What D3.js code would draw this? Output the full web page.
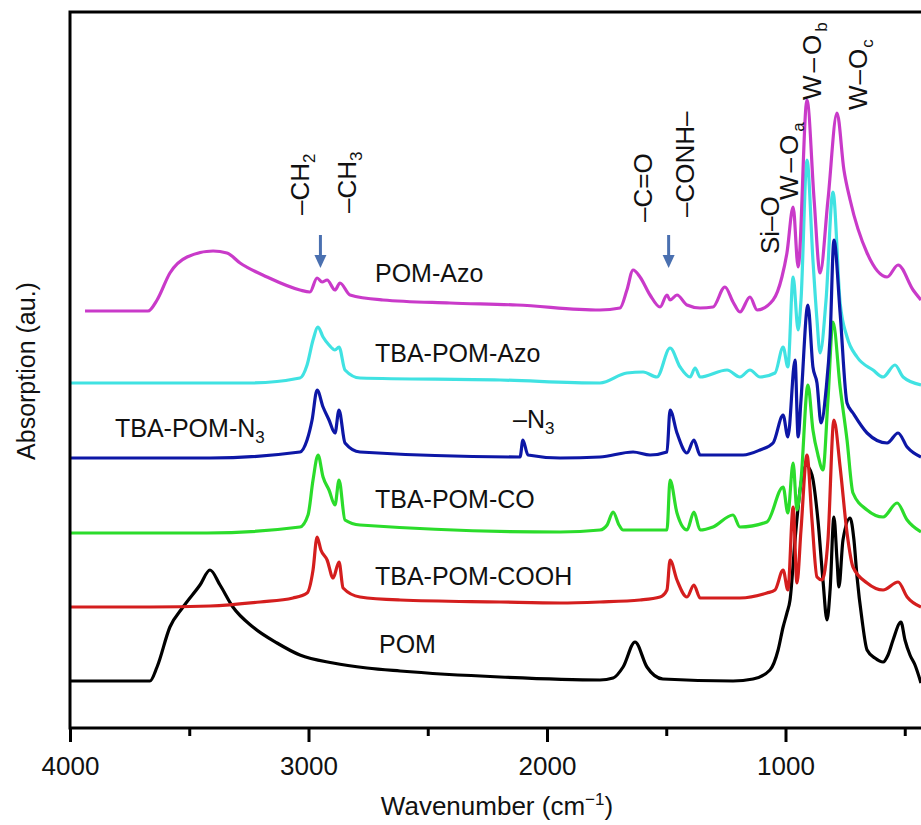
<!DOCTYPE html>
<html lang="en">
  <head>
    <meta charset="UTF-8" />
    <title>FTIR spectra</title>
    <style>
      body { margin: 0; background: #fff; }
      text { font-family: "Liberation Sans", Arial, sans-serif; fill: #111; }
    </style>
  </head>
  <body>
    <svg id="chart"></svg>
    <script src="https://cdnjs.cloudflare.com/ajax/libs/d3/7.4.4/d3.min.js"></script>
    <script>
      // spectra: [wavenumber cm-1, absorption au.]
      const pom = [[4000,0.47],[3665,0.47],[3635,0.61],[3581,1.01],[3526,1.21],[3455,1.43],[3413,1.58],[3371,1.43],[3317,1.21],[3233,1.01],[3132,0.85],[3036,0.73],[2897,0.65],[2755,0.60],[2616,0.57],[2197,0.51],[1778,0.48],[1723,0.50],[1681,0.61],[1631,0.86],[1581,0.61],[1514,0.49],[1220,0.47],[1136,0.49],[1065,0.58],[1031,0.78],[1010,1.01],[994,1.15],[981,1.28],[960,1.88],[939,2.38],[914,2.63],[889,2.53],[864,2.08],[843,1.48],[826,1.08],[813,1.38],[797,2.11],[784,1.68],[776,1.41],[759,1.88],[729,2.10],[713,1.88],[700,1.51],[679,1.08],[658,0.78],[625,0.70],[591,0.66],[570,0.73],[549,0.88],[516,1.06],[499,0.88],[478,0.73],[457,0.63],[432,0.45]];
      const cooh = [[4000,1.21],[3665,1.21],[3413,1.22],[3203,1.26],[3065,1.30],[3006,1.35],[2981,1.58],[2964,1.91],[2948,1.78],[2922,1.68],[2897,1.50],[2872,1.66],[2855,1.40],[2784,1.31],[2616,1.28],[2197,1.26],[1945,1.25],[1778,1.26],[1610,1.28],[1526,1.31],[1497,1.38],[1484,1.68],[1455,1.48],[1413,1.31],[1384,1.43],[1358,1.30],[1191,1.30],[1078,1.35],[1044,1.38],[1010,1.58],[990,1.38],[968,2.21],[952,1.45],[935,1.98],[910,2.73],[889,2.08],[868,1.51],[847,1.48],[822,1.88],[797,3.08],[771,2.61],[742,1.95],[717,1.61],[658,1.45],[591,1.38],[528,1.46],[490,1.31],[432,1.21]];
      const co = [[4000,1.95],[3426,1.95],[3036,2.01],[3002,2.13],[2981,2.48],[2960,2.73],[2939,2.51],[2914,2.38],[2889,2.23],[2872,2.48],[2847,2.08],[2784,2.03],[1945,1.96],[1778,1.98],[1748,2.03],[1723,2.16],[1698,2.03],[1681,1.98],[1497,1.98],[1484,2.48],[1455,2.15],[1413,1.98],[1384,2.16],[1358,1.98],[1304,2.01],[1220,2.13],[1191,2.01],[1078,2.06],[1010,2.41],[990,2.15],[968,2.65],[952,2.18],[935,2.48],[906,3.43],[885,2.98],[864,2.73],[843,2.58],[822,3.28],[801,4.06],[771,3.41],[742,2.88],[717,2.35],[658,2.18],[591,2.11],[532,2.25],[490,2.08],[432,1.96]];
      const n3 = [[4000,2.70],[3413,2.70],[3036,2.76],[3006,2.88],[2985,3.08],[2964,3.38],[2939,3.21],[2914,3.08],[2889,2.95],[2872,3.18],[2847,2.85],[2784,2.76],[2113,2.71],[2101,2.88],[2080,2.73],[1945,2.70],[1778,2.71],[1639,2.76],[1568,2.73],[1497,2.76],[1484,3.18],[1455,2.95],[1413,2.75],[1384,2.88],[1358,2.73],[1178,2.73],[1107,2.78],[1052,2.85],[1010,3.13],[990,2.91],[960,3.68],[947,2.91],[935,3.28],[906,4.23],[885,3.61],[868,3.45],[851,3.05],[830,3.38],[813,3.91],[797,4.88],[771,4.15],[742,3.25],[717,3.15],[658,2.95],[574,2.85],[528,2.95],[490,2.81],[432,2.71]];
      const tbaAzo = [[4000,3.45],[3245,3.45],[3036,3.50],[3006,3.63],[2981,3.88],[2960,4.01],[2939,3.91],[2914,3.83],[2889,3.78],[2872,3.81],[2847,3.58],[2784,3.50],[2197,3.48],[1778,3.45],[1665,3.55],[1597,3.56],[1539,3.51],[1484,3.80],[1442,3.61],[1400,3.51],[1379,3.60],[1358,3.51],[1245,3.58],[1191,3.51],[1149,3.58],[1107,3.51],[1044,3.55],[1010,3.81],[990,3.61],[968,4.51],[947,3.98],[935,4.28],[910,5.68],[885,4.68],[868,4.08],[855,3.75],[830,4.28],[801,5.36],[771,4.25],[742,3.91],[700,3.71],[633,3.58],[591,3.51],[541,3.63],[507,3.51],[432,3.43]];
      const pomAzo = [[3937,4.17],[3673,4.17],[3635,4.28],[3581,4.55],[3509,4.71],[3400,4.77],[3342,4.75],[3287,4.65],[3174,4.51],[3036,4.38],[2994,4.36],[2964,4.50],[2943,4.46],[2922,4.48],[2889,4.38],[2868,4.45],[2826,4.33],[2688,4.28],[2407,4.25],[2126,4.23],[1778,4.18],[1694,4.20],[1665,4.38],[1639,4.58],[1610,4.51],[1568,4.33],[1526,4.21],[1497,4.33],[1484,4.28],[1455,4.33],[1413,4.23],[1358,4.20],[1304,4.21],[1254,4.41],[1220,4.26],[1191,4.16],[1149,4.31],[1119,4.18],[1052,4.28],[1015,4.51],[994,4.75],[968,5.21],[947,4.61],[910,6.28],[880,5.28],[855,4.55],[822,5.28],[784,6.15],[755,5.58],[729,5.28],[658,4.75],[574,4.51],[528,4.63],[465,4.38],[432,4.28]];

      const majorTicks = [4000, 3000, 2000, 1000];
      const minorTicks = [3500, 2500, 1500, 500];

      const W = 921, H = 825;
      const mLeft = 70, mTop = 12, mBottom = 728;

      const svg = d3.select("#chart").attr("width", W).attr("height", H);

      const x = d3.scaleLinear().domain([4000, 400]).range([mLeft, 928.6]);
      const y = d3.scaleLinear().domain([0, 7.16]).range([mBottom, mTop]);

      svg.append("clipPath").attr("id", "plot")
        .append("rect").attr("x", mLeft).attr("y", mTop).attr("width", W - mLeft).attr("height", mBottom - mTop);

      const line = d3.line()
        .x((d) => x(d[0]))
        .y((d) => y(d[1]))
        .curve(d3.curveMonotoneX);

      const series = [
        { data: pom, color: "#000000" },
        { data: cooh, color: "#d41e1e" },
        { data: co, color: "#2bdc2b" },
        { data: tbaAzo, color: "#40e2e2" },
        { data: n3, color: "#0d17a6" },
        { data: pomAzo, color: "#c93ac9" },
      ];

      svg.append("g").attr("clip-path", "url(#plot)")
        .selectAll("path").data(series).enter().append("path")
        .attr("d", (s) => line(s.data))
        .attr("fill", "none")
        .attr("stroke", (s) => s.color)
        .attr("stroke-width", 3.2)
        .attr("stroke-linejoin", "round");

      // frame (right side is cropped in the figure)
      svg.append("path")
        .attr("d", `M${W + 5},${mTop}H${mLeft}V${mBottom}H${W + 5}`)
        .attr("fill", "none").attr("stroke", "#000").attr("stroke-width", 3);

      const axis = d3.axisBottom(x).tickValues(majorTicks).tickSize(14).tickPadding(15).tickFormat(d3.format("d"));
      const ax = svg.append("g").attr("transform", `translate(0,${mBottom})`).call(axis);
      ax.select(".domain").remove();
      ax.selectAll("line").attr("stroke", "#000").attr("stroke-width", 3);
      ax.selectAll("text").attr("font-size", 26).attr("fill", "#111").style("font-family", "Liberation Sans, Arial, sans-serif");

      const axMinor = d3.axisBottom(x).tickValues(minorTicks).tickSize(8).tickFormat("");
      const am = svg.append("g").attr("transform", `translate(0,${mBottom})`).call(axMinor);
      am.select(".domain").remove();
      am.selectAll("line").attr("stroke", "#000").attr("stroke-width", 3);

      // axis titles
      const xt = svg.append("text").attr("x", 497).attr("y", 815).attr("text-anchor", "middle").attr("font-size", 26);
      xt.append("tspan").text("Wavenumber (cm");
      xt.append("tspan").attr("font-size", 17).attr("dy", -10).text("−1");
      xt.append("tspan").attr("dy", 10).text(")");

      svg.append("text").attr("transform", "translate(35,371) rotate(-90)")
        .attr("text-anchor", "middle").attr("font-size", 25).text("Absorption (au.)");

      // series labels
      function label(px, py, main, sub) {
        const t = svg.append("text").attr("x", px).attr("y", py).attr("font-size", 25);
        t.append("tspan").text(main);
        if (sub) t.append("tspan").attr("font-size", 17).attr("dy", 6).text(sub);
      }
      label(375, 282, "POM-Azo");
      label(375, 362, "TBA-POM-Azo");
      label(115, 437, "TBA-POM-N", "3");
      label(513, 428, "–N", "3");
      label(375, 508, "TBA-POM-CO");
      label(375, 585, "TBA-POM-COOH");
      label(379, 653, "POM");

      // vertical band labels
      function vlabel(bx, by, main, sub, spacing) {
        const t = svg.append("text").attr("transform", `translate(${bx},${by}) rotate(-90)`)
          .attr("font-size", 26).attr("letter-spacing", spacing || 0);
        t.append("tspan").text(main);
        if (sub) t.append("tspan").attr("font-size", 17).attr("dy", 6).attr("letter-spacing", 0).text(sub);
      }
      vlabel(309, 215, "–CH", "2");
      vlabel(356, 213, "–CH", "3");
      vlabel(652, 222, "–C=O");
      vlabel(694, 217, "–CONH–");
      vlabel(779, 254, "Si–O");
      vlabel(798, 200, "W–O", "a", 3);
      vlabel(821, 100, "W–O", "b", 3);
      vlabel(867, 110, "W–O", "c", 1);

      // arrows
      const arrows = [2950, 1490];
      arrows.forEach((wn) => {
        const ax0 = x(wn);
        svg.append("line").attr("x1", ax0).attr("x2", ax0).attr("y1", 235).attr("y2", 258)
          .attr("stroke", "#4a70b0").attr("stroke-width", 3);
        svg.append("path").attr("d", `M${ax0 - 6},255L${ax0 + 6},255L${ax0},268Z`).attr("fill", "#4a70b0");
      });
    </script>
  </body>
</html>
